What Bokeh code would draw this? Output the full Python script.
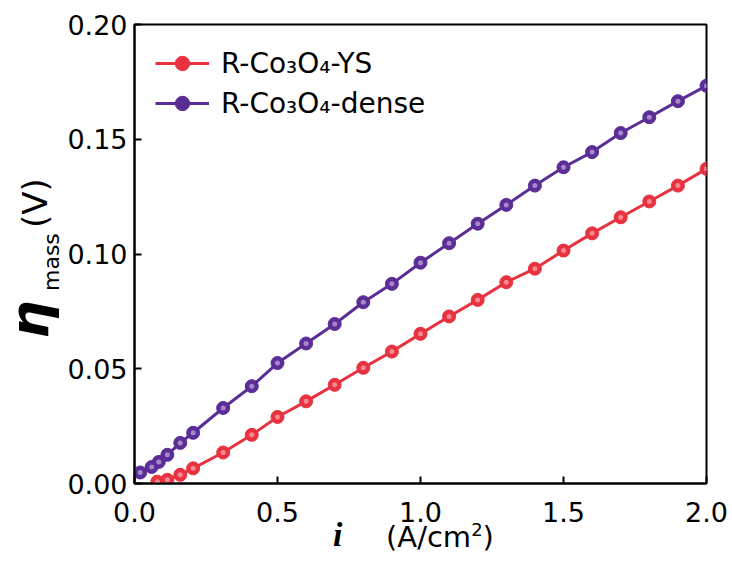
from bokeh.plotting import figure
from bokeh.layouts import row, column
from bokeh.models import Range1d, FixedTicker, NumeralTickFormatter, Legend, LegendItem, Div
from bokeh.embed import file_html
from bokeh.resources import INLINE

# ---- data ----
x_ys = [0.08, 0.115, 0.16, 0.205, 0.31, 0.41, 0.5, 0.6, 0.7, 0.8, 0.9, 1.0, 1.1, 1.2,
        1.3, 1.4, 1.5, 1.6, 1.7, 1.8, 1.9, 2.0]
y_ys = [0.0008, 0.0016, 0.0038, 0.0066, 0.0135, 0.0212, 0.0290, 0.0358, 0.0430, 0.0504,
        0.0575, 0.0652, 0.0728, 0.0800, 0.0877, 0.0936, 0.1015, 0.1090, 0.1160, 0.1229,
        0.1298, 0.1371]
x_dense = [0.02, 0.06, 0.085, 0.115, 0.16, 0.205, 0.31, 0.41, 0.5, 0.6, 0.7, 0.8, 0.9,
           1.0, 1.1, 1.2, 1.3, 1.4, 1.5, 1.6, 1.7, 1.8, 1.9, 2.0]
y_dense = [0.0048, 0.0072, 0.0094, 0.0125, 0.0177, 0.0221, 0.0329, 0.0424, 0.0525, 0.0610,
           0.0695, 0.0790, 0.0870, 0.0962, 0.1047, 0.1132, 0.1214, 0.1298, 0.1378, 0.1444,
           0.1527, 0.1596, 0.1666, 0.1733]
label_ys = "R-Co\u2083O\u2084-YS"
label_dense = "R-Co\u2083O\u2084-dense"
x_ticks = [0.0, 0.5, 1.0, 1.5, 2.0]
y_ticks = [0.0, 0.05, 0.10, 0.15, 0.20]
x_title_symbol = "i"
x_title_unit = "(A/cm<sup style='font-size:18px'>2</sup>)"
y_title_symbol = "\u03b7"
y_title_sub = "mass"
y_title_unit = "(V)"

RED = "#E8323F"
PURPLE = "#5B2D96"
FONT = "DejaVu Sans"
FIG_H = 534

p = figure(width=670, height=FIG_H, x_range=Range1d(0, 2.0), y_range=Range1d(0, 0.2),
           output_backend="svg", toolbar_location=None, margin=0,
           min_border_left=72, min_border_right=26, min_border_top=24, min_border_bottom=51)
p.xgrid.visible = False
p.ygrid.visible = False
p.outline_line_color = "black"
p.outline_line_width = 2
p.outline_line_alpha = 1.0

for ax in (p.xaxis, p.yaxis):
    ax.axis_line_width = 2
    ax.major_tick_line_width = 2
    ax.major_tick_in = 7
    ax.major_tick_out = 0
    ax.minor_tick_line_color = None
    ax.major_label_text_font = FONT
    ax.major_label_text_font_size = "27px"
    ax.major_label_text_color = "black"
p.xaxis.ticker = FixedTicker(ticks=x_ticks)
p.yaxis.ticker = FixedTicker(ticks=y_ticks)
p.xaxis.formatter = NumeralTickFormatter(format="0.0")
p.yaxis.formatter = NumeralTickFormatter(format="0.00")
p.xaxis.major_label_standoff = 18
p.yaxis.major_label_standoff = 7

def series(x, y, color, hl):
    l = p.line(x, y, line_color=color, line_width=3)
    s = p.scatter(x, y, size=13, fill_color=color, line_color=color, line_width=1)
    p.scatter(x, y, size=5, fill_color=hl, line_color=None, fill_alpha=0.55)
    return [l, s]

r_ys = series(x_ys, y_ys, RED, "#FFD0D4")
r_dense = series(x_dense, y_dense, PURPLE, "#E0D4F4")

legend = Legend(items=[LegendItem(label=label_ys, renderers=r_ys),
                       LegendItem(label=label_dense, renderers=r_dense)],
                location="top_left", margin=21, padding=21, spacing=4,
                glyph_width=54, glyph_height=36, label_height=36, label_standoff=12,
                label_text_font=FONT, label_text_font_size="28px", label_text_color="black",
                border_line_color=None, background_fill_alpha=0)
p.add_layout(legend)

# ---- axis titles as real HTML text (mixed styles, sub/superscripts) ----
rot = ("position:absolute;transform-origin:0 0;transform:rotate(-90deg);"
       "white-space:nowrap;line-height:1;color:#000;font-family:'DejaVu Sans';")
ylabel_html = (
    f"<div style='position:relative;width:62px;height:{FIG_H}px;'>"
    f"<div style=\"{rot}left:3px;top:339px;font-size:54px;font-weight:bold;font-style:italic;\">{y_title_symbol}</div>"
    f"<div style=\"{rot}left:41px;top:291px;font-size:22px;\">{y_title_sub}</div>"
    f"<div style=\"{rot}left:18px;top:228px;font-size:34px;\">{y_title_unit}</div>"
    "</div>")
ylabel = Div(text=ylabel_html, width=62, height=FIG_H, margin=0)

hor = "position:absolute;white-space:nowrap;line-height:1;color:#000;"
xlabel_html = (
    "<div style='position:relative;width:732px;height:32px;'>"
    f"<div style=\"{hor}left:333px;top:0px;font-family:'Liberation Serif';font-size:34px;font-weight:bold;font-style:italic;\">{x_title_symbol}</div>"
    f"<div style=\"{hor}left:386px;top:3px;font-family:'DejaVu Sans';font-size:29px;\">{x_title_unit}</div>"
    "</div>")
xlabel = Div(text=xlabel_html, width=732, height=566 - FIG_H, margin=0,
             styles={"transform": "translateY(-16px)"})

layout = column(row(ylabel, p, margin=0), xlabel, margin=0)
open("out.html", "w").write(file_html(layout, INLINE))
